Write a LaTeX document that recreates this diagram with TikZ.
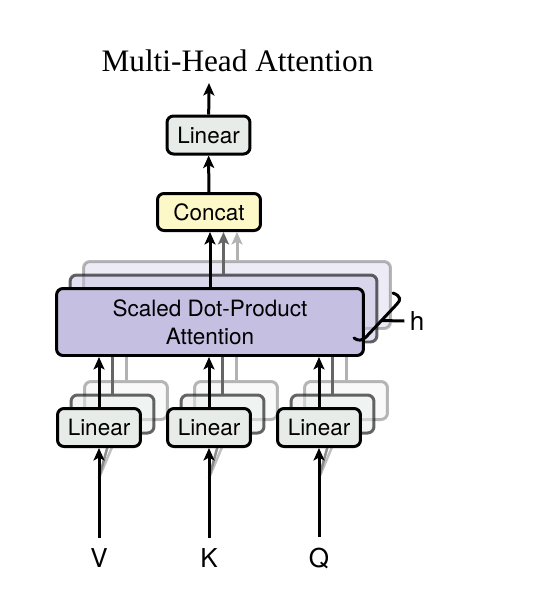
\documentclass[tikz,border=0pt]{standalone}
\usepackage{fontspec}
\setmainfont{TeX Gyre Heros}
\newfontfamily\titlefont{Liberation Serif}
\usetikzlibrary{arrows.meta}
\definecolor{linfill}{RGB}{231,236,233}
\definecolor{catfill}{RGB}{253,248,199}
\definecolor{attfill}{RGB}{197,191,225}
\begin{document}
\begin{tikzpicture}[
  x=0.02cm, y=-0.02cm,
  box/.style={draw, line width=0.06cm, rounded corners=0.13cm, align=center, inner sep=0pt, font=\fontsize{12.8}{16}\selectfont},
  lin/.style={box, fill=linfill, minimum width=1.66cm, minimum height=0.76cm},
  att/.style={box, fill=attfill, minimum width=6.14cm, minimum height=1.34cm},
  mid/.style={draw opacity=0.6, fill opacity=0.5},
  far/.style={draw opacity=0.28, fill opacity=0.3},
  arr/.style={line width=0.06cm, -{Stealth[length=0.25cm, width=0.22cm, inset=0.06cm]}},
  lab/.style={font=\fontsize{14.8}{18}\selectfont, inner sep=0.2cm, anchor=base}
]
\useasboundingbox (0,0) rectangle (539,606);

\node[font=\titlefont\fontsize{17.8}{20}\selectfont] (title) at (237.5,61) {Multi-Head Attention};
\coordinate (out) at (209,83);
\node[lin] (lout) at (208.5,135) {Linear};
\node[box, fill=catfill, minimum width=2.06cm, minimum height=0.74cm] (cat) at (209,212) {Concat};
\draw[arr] (lout) -- (out);
\draw[arr] (cat) -- (lout);

% copies for the other heads
\node[att, far] (att3) at (237,295) {};
\draw[arr, black!30] (att3.north) -- (att3.north |- cat.south);
\node[att, mid] (att2) at (223.5,308.5) {};
\draw[arr, black!60] (att2.north) -- (att2.north |- cat.south);

\foreach \n/\x in {v/99, k/209, q/319} {
  \coordinate (in\n) at (\x,478);
  \draw[line width=0.05cm, black!25] (in\n) -- (\x+24,421);
  \draw[line width=0.05cm, black!45] (in\n) -- (\x+12,434);
  \node[lin, far] (lin\n3) at (\x+27,400.5) {};
  \draw[arr, black!30] (lin\n3.north) -- (lin\n3.north |- att3.south);
  \node[lin, mid] (lin\n2) at (\x+13.5,414) {};
  \draw[arr, black!60] (lin\n2.north) -- (lin\n2.north |- att2.south);
}

\node[att] (att) at (210,322) {Scaled Dot-Product\\Attention};
\draw[arr] (att) -- (att |- cat.south);

\foreach \n/\x/\t in {v/99/V, k/209/K, q/319/Q} {
  \node[lin] (lin\n) at (\x,427.5) {Linear};
  \node[lab] (\n) at (\x,567) {\t};
  \draw[arr] (\n) -- (lin\n);
  \draw[arr] (lin\n) -- (lin\n |- att.south);
}

% brace for h
\draw[line width=0.06cm, line cap=round] (393,293) .. controls (401,296) and (401,300) .. (397,304) -- (366,337) .. controls (362,341) and (358,341) .. (354,338);
\node[lab, anchor=center, inner sep=0.1cm] (h) at (417,321) {h};
\draw[line width=0.06cm] (381,320.5) -- (h.west);
\end{tikzpicture}
\end{document}
